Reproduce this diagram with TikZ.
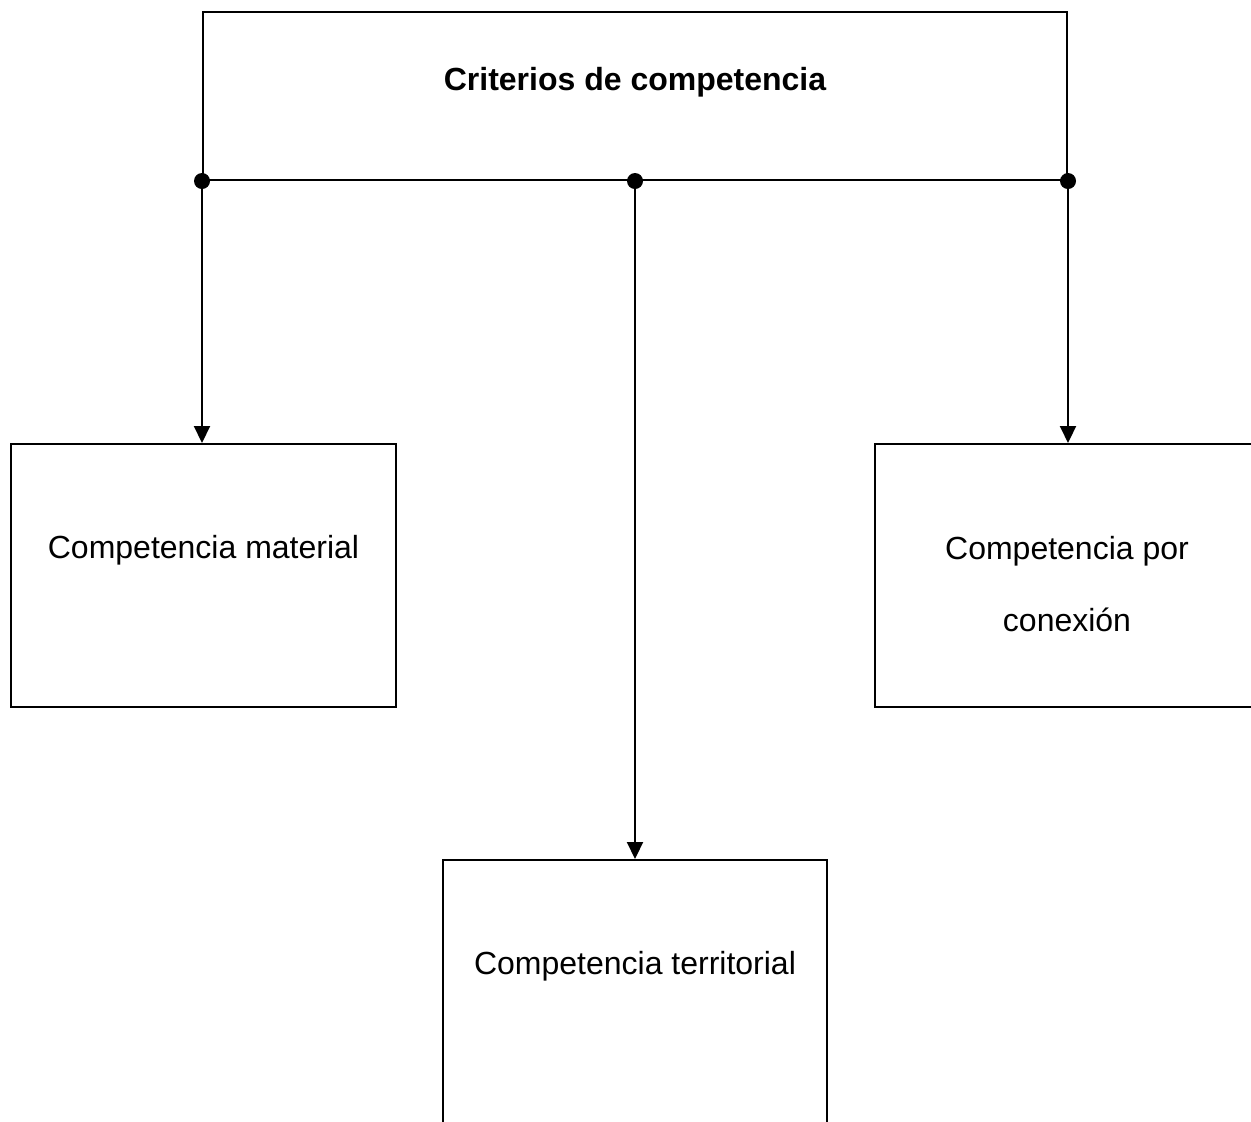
\documentclass[tikz,border=0pt]{standalone}
\usepackage{fontspec}
\setmainfont{Liberation Sans}
\usetikzlibrary{arrows.meta}
\begin{document}
\begin{tikzpicture}[x=0.5pt,y=-0.5pt,
  frame/.style={draw,line width=1pt,rectangle,inner sep=0pt},
  boxlabel/.style={anchor=base,inner sep=0pt,font=\fontsize{16pt}{36pt}\selectfont,align=center},
  link/.style={line width=1pt,-{Triangle[length=8.5pt,width=8pt]}},
  joint/.style={fill=black,circle,inner sep=0pt,minimum size=8pt}]
\useasboundingbox (0,0) rectangle (1251,1121);
\clip (0,0) rectangle (1251,1121);

% header box and its junctions
\node[frame,minimum width=432pt,minimum height=84pt] (top) at (635,96) {};
\node[anchor=base,inner sep=0pt,font=\fontsize{16pt}{18pt}\selectfont\bfseries] (title) at (635,90) {Criterios de competencia};

% target boxes
\node[frame,minimum width=192.5pt,minimum height=131.5pt] (boxL) at (203.5,575.5) {};
\node[frame,minimum width=192.5pt,minimum height=131.5pt] (boxR) at (1067,575.5) {};
\node[frame,minimum width=192pt,minimum height=131.5pt] (boxB) at (635,991.5) {};

\node[boxlabel] (tL) at (203.5,558) {Competencia material};
\node[boxlabel] (tR) at (1067,631) {Competencia por\\conexión};
\node[boxlabel] (tB) at (635,974) {Competencia territorial};

% connectors
\coordinate (jL) at (top.south west);
\coordinate (jM) at (top.south);
\coordinate (jR) at (top.south east);
\draw[link] (jL) -- (jL |- boxL.north);
\draw[link] (jM) -- (jM |- boxB.north);
\draw[link] (jR) -- (jR |- boxR.north);
\node[joint] at (jL) {};
\node[joint] at (jM) {};
\node[joint] at (jR) {};
\end{tikzpicture}
\end{document}
